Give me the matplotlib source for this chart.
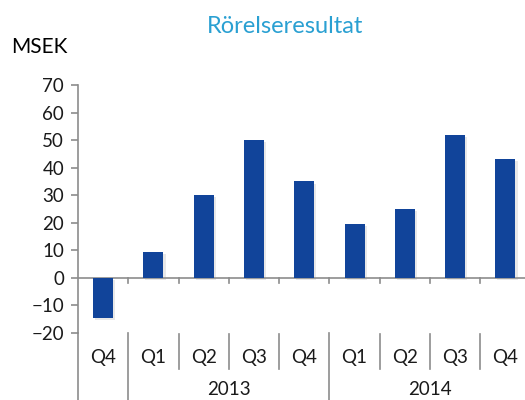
import matplotlib.pyplot as plt
import matplotlib.patheffects as pe
import matplotlib.transforms as mtransforms

quarters = ['Q4', 'Q1', 'Q2', 'Q3', 'Q4', 'Q1', 'Q2', 'Q3', 'Q4']
values = [-14.5, 9.5, 30, 50, 35, 19.5, 25, 52, 43]
# year groups: (label, first index, last index)
years = [('', 0, 0), ('2013', 1, 4), ('2014', 5, 8)]

plt.rcParams['font.family'] = ['Lato', 'DejaVu Sans']

fig = plt.figure(figsize=(5.25, 4), dpi=100)
ax = fig.add_axes([0.1486, 0.1675, 0.862, 0.62])

x = list(range(len(values)))
bars = ax.bar(x, values, width=0.4, color='#11449A', zorder=3)
for b in bars:
    b.set_path_effects([pe.SimplePatchShadow(offset=(1.5, -1.5), shadow_rgbFace='#999999', alpha=0.22),
                        pe.Normal()])

ax.set_xlim(-0.5, len(values) - 0.5)
ax.set_ylim(-20, 70)
ax.set_yticks(range(-20, 71, 10))
ax.tick_params(axis='y', length=5, width=1.2, color='#8c8c8c', labelsize=13.5, pad=5,
               labelcolor='#1a1a1a')
ax.set_xticks([])

for s in ['top', 'right', 'bottom']:
    ax.spines[s].set_visible(False)
ax.spines['left'].set_color('#8c8c8c')
ax.spines['left'].set_linewidth(1.2)

# zero line with small ticks at category boundaries
ax.axhline(0, color='#8c8c8c', lw=1.2, zorder=2)
trans = mtransforms.blended_transform_factory(ax.transData, ax.transAxes)
for i in range(1, len(values)):
    ax.plot([i - 0.5, i - 0.5], [0, -1.8], color='#8c8c8c', lw=1.2, zorder=2)

# category axis below plot
group_edges = set()
for label, a, b in years:
    group_edges.add(a - 0.5)
    group_edges.add(b + 0.5)
for i in range(len(values) + 1):
    xb = i - 0.5
    if xb in group_edges:
        ax.plot([xb, xb], [0, -0.3], transform=trans, color='#8c8c8c', lw=1.2, clip_on=False)
    else:
        ax.plot([xb, xb], [-0.005, -0.145], transform=trans, color='#8c8c8c', lw=1.2, clip_on=False)

for i, q in enumerate(quarters):
    ax.text(i, -0.097, q, transform=trans, ha='center', va='center', fontsize=13.5, color='#1a1a1a')
for label, a, b in years:
    if label:
        ax.text((a + b) / 2, -0.228, label, transform=trans, ha='center', va='center',
                fontsize=13.5, color='#1a1a1a')

fig.text(0.543, 0.933, 'Rörelseresultat', ha='center', va='center', fontsize=17, color='#2AA0D2')
fig.text(0.022, 0.882, 'MSEK', ha='left', va='center', fontsize=15, color='black')

fig.savefig('out.png', dpi=100)
